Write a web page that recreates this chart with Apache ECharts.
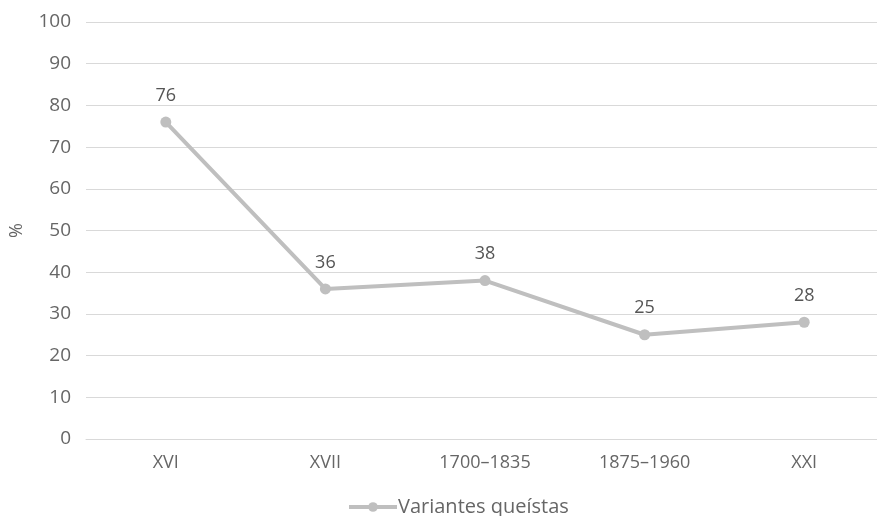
<!DOCTYPE html>
<html>
<head>
<meta charset="utf-8">
<script src="https://cdn.jsdelivr.net/npm/echarts@6/dist/echarts.min.js"></script>
<style>
  html, body { margin: 0; padding: 0; background: #fff; }
  #chart { width: 877px; height: 516px; }
</style>
</head>
<body>
<div id="chart"></div>
<script>
const categories = ['XVI', 'XVII', '1700–1835', '1875–1960', 'XXI'];
const values = [76, 36, 38, 25, 28];
const seriesName = 'Variantes queístas';
const yTicks = { min: 0, max: 100, interval: 10 };

const font = '"Open Sans", Lato, sans-serif';
const chart = echarts.init(document.getElementById('chart'));
chart.setOption({
  animation: false,
  textStyle: { fontFamily: font },
  grid: {
    left: 86, top: 22, width: 798, height: 417,
    containLabel: false,
    outerBoundsMode: 'none'
  },
  legend: {
    top: 497,
    left: 347,
    padding: 0,
    itemWidth: 48,
    itemHeight: 12,
    itemGap: 10,
    itemStyle: { color: '#bfbfbf' },
    lineStyle: { color: '#bfbfbf', width: 4 },
    textStyle: { color: '#666', fontSize: 20, fontFamily: font, padding: [0, 0, 0, -4] },
    data: [{ name: seriesName }]
  },
  xAxis: {
    type: 'category',
    data: categories,
    boundaryGap: true,
    axisLine: { show: true, lineStyle: { color: '#d9d9d9', width: 1 } },
    axisTick: { show: false },
    axisLabel: { color: '#666', fontSize: 18, margin: 15, fontFamily: font }
  },
  yAxis: {
    type: 'value',
    min: yTicks.min,
    max: yTicks.max,
    interval: yTicks.interval,
    name: '%',
    nameLocation: 'middle',
    nameGap: 60,
    nameRotate: 90,
    nameTextStyle: { color: '#666', fontSize: 18, fontFamily: font },
    axisLine: { show: false },
    axisTick: { show: false },
    axisLabel: { color: '#666', fontSize: 19, margin: 15, fontFamily: font },
    splitLine: { lineStyle: { color: '#d9d9d9', width: 1 } }
  },
  series: [{
    name: seriesName,
    type: 'line',
    data: values,
    symbol: 'circle',
    symbolSize: 11,
    lineStyle: { color: '#bfbfbf', width: 4 },
    itemStyle: { color: '#bfbfbf' },
    label: {
      show: true,
      position: 'top',
      distance: 12,
      color: '#555',
      fontSize: 18,
      fontFamily: font
    }
  }]
});
</script>
</body>
</html>
